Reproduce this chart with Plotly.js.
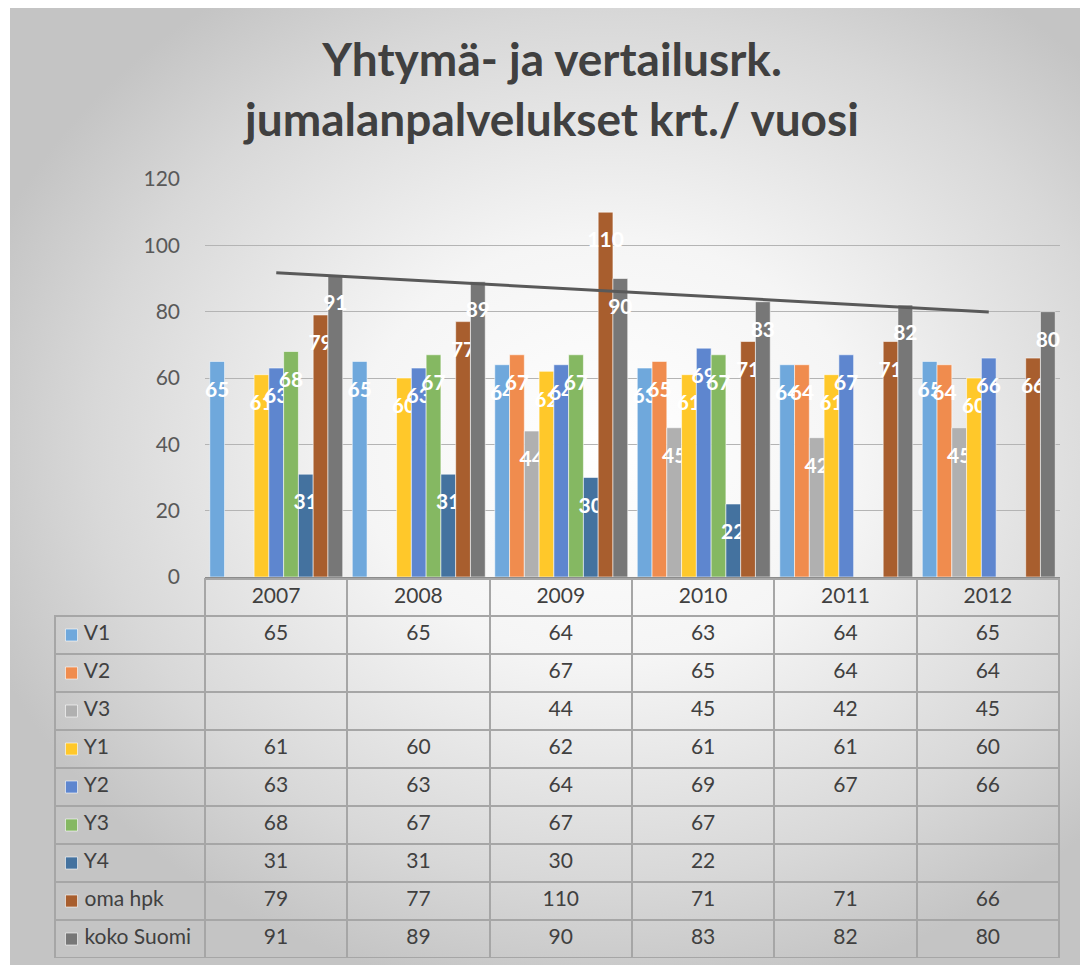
<!DOCTYPE html>
<html>
<head>
<meta charset="utf-8">
<script src="https://cdn.plot.ly/plotly-3.0.1.min.js"></script>
<style>
    body { margin: 0; background: #ffffff; }
    #bg {
        position: absolute; left: 10px; top: 8px; width: 1070px; height: 957px;
        background: radial-gradient(ellipse 62% 58% at 56% 46%, #ffffff 0%, #f5f5f5 38%, #d8d8d8 78%, #c4c4c4 100%);
    }
    #chart { position: absolute; left: 0; top: 0; width: 1086px; height: 965px; }
</style>
</head>
<body>
<div id="bg"></div>
<div id="chart"></div>
<script>
const years = ['2007', '2008', '2009', '2010', '2011', '2012'];

const v1 = [65, 65, 64, 63, 64, 65];
const v2 = [null, null, 67, 65, 64, 64];
const v3 = [null, null, 44, 45, 42, 45];
const y1 = [61, 60, 62, 61, 61, 60];
const y2 = [63, 63, 64, 69, 67, 66];
const y3 = [68, 67, 67, 67, null, null];
const y4 = [31, 31, 30, 22, null, null];
const omaHpk = [79, 77, 110, 71, 71, 66];
const kokoSuomi = [91, 89, 90, 83, 82, 80];

const seriesNames = ['V1', 'V2', 'V3', 'Y1', 'Y2', 'Y3', 'Y4', 'oma hpk', 'koko Suomi'];
const seriesValues = [v1, v2, v3, y1, y2, y3, y4, omaHpk, kokoSuomi];
const seriesColors = ['#6FA8DC', '#F08C4E', '#B0B0B0', '#FFC82A', '#5E86CF', '#85B862', '#44729F', '#A85E2E', '#777777'];

const FONT = 'Lato, "Open Sans", sans-serif';

// linear trend of koko Suomi (least squares over category index)
function linearTrend(vals) {
    const n = vals.length;
    let sx = 0, sy = 0, sxx = 0, sxy = 0;
    vals.forEach((v, i) => { const x = i + 1; sx += x; sy += v; sxx += x * x; sxy += x * v; });
    const slope = (n * sxy - sx * sy) / (n * sxx - sx * sx);
    const icpt = (sy - slope * sx) / n;
    return vals.map((v, i) => icpt + slope * (i + 1));
}

let data = seriesNames.map((name, k) => ({
    type: 'bar',
    x: years,
    y: seriesValues[k],
    name: name,
    marker: {
        color: seriesColors[k],
        line: { color: 'rgba(255,255,255,0.55)', width: 1 },
    },
    // small blank first line pushes the value a bit below the bar top
    texttemplate: '\u00a0<br><span style="font-size:21px">%{y}</span>',
    textposition: 'inside',
    insidetextanchor: 'end',
    textangle: 0,
    constraintext: 'none',
    insidetextfont: { family: FONT, size: 14, color: '#ffffff', weight: 'bold' },
    hoverinfo: 'name+y',
    showlegend: false,
}));

data.push({
    type: 'scatter',
    mode: 'lines',
    x: years,
    y: linearTrend(kokoSuomi),
    line: { color: '#595959', width: 3 },
    hoverinfo: 'skip',
    showlegend: false,
});

// legend keys in the first column of the data table
data.push({
    type: 'scatter',
    mode: 'markers',
    xaxis: 'x2',
    yaxis: 'y2',
    x: seriesNames.map(() => 0),
    y: seriesNames,
    marker: {
        symbol: 'square',
        size: 12,
        color: seriesColors,
        line: { color: 'rgba(255,255,255,0.6)', width: 1 },
    },
    hoverinfo: 'skip',
    showlegend: false,
});

// data table under the plot
const yearColumns = years.map((yr, j) =>
    seriesValues.map(vals => vals[j] === null ? '' : String(vals[j])));
// no-break spaces keep the table from wrapping the names
const tableNames = seriesNames.map(s => '\u00a0\u00a0\u00a0\u00a0' + s.replace(/ /g, '\u00a0'));

data.push({
    type: 'table',
    domain: { x: [55 / 1086, 1060 / 1086], y: [1 - 958 / 965, 1 - 579 / 965] },
    columnwidth: [150, 142.5, 142.5, 142.5, 142.5, 142.5, 142.5],
    header: {
        values: [''].concat(years),
        height: 37,
        align: 'center',
        fill: { color: 'rgba(0,0,0,0)' },
        line: { color: ['rgba(0,0,0,0)'].concat(years.map(() => '#a6a6a6')), width: 2 },
        font: { family: FONT, size: 21, color: '#404040' },
    },
    cells: {
        values: [tableNames].concat(yearColumns),
        height: 38,
        align: ['left', 'center', 'center', 'center', 'center', 'center', 'center'],
        fill: { color: 'rgba(0,0,0,0)' },
        line: { color: '#a6a6a6', width: 2 },
        font: { family: FONT, size: 21, color: '#404040' },
    },
});

let layout = {
    width: 1086,
    height: 965,
    margin: { l: 0, r: 0, t: 0, b: 0 },
    paper_bgcolor: 'rgba(0,0,0,0)',
    plot_bgcolor: 'rgba(0,0,0,0)',
    font: { family: FONT, color: '#595959' },

    title: {
        text: 'Yhtymä- ja vertailusrk.<br>jumalanpalvelukset krt./ vuosi',
        font: { family: FONT, size: 46, color: '#404040', weight: 'bold' },
        x: 552 / 1086,
        xanchor: 'center',
        xref: 'paper',
        y: 1 - 76 / 965,
        yanchor: 'middle',
        yref: 'container',
    },

    barmode: 'group',
    bargap: 0.067,
    bargroupgap: 0,

    xaxis: {
        type: 'category',
        domain: [205 / 1086, 1060 / 1086],
        showticklabels: false,
        showgrid: false,
        showline: true,
        linecolor: '#8c8c8c',
        linewidth: 2,
        ticks: '',
    },
    yaxis: {
        domain: [1 - 577 / 965, 1 - 179 / 965],
        range: [0, 120],
        tickvals: [0, 20, 40, 60, 80, 100, 120],
        gridcolor: '#b4b4b4',
        gridwidth: 1,
        zeroline: false,
        ticks: '',
        ticklabelstandoff: 24,
        tickfont: { family: FONT, size: 21, color: '#595959' },
    },
    xaxis2: {
        domain: [55 / 1086, 205 / 1086],
        range: [-16.5, 133.5],
        visible: false,
        anchor: 'y2',
        fixedrange: true,
    },
    yaxis2: {
        domain: [1 - 958 / 965, 1 - 616 / 965],
        type: 'category',
        categoryorder: 'array',
        categoryarray: seriesNames,
        range: [8.5, -0.5],
        visible: false,
        anchor: 'x2',
        fixedrange: true,
    },
};

let config = {
    responsive: false,
    displayModeBar: false,
};

const div = document.getElementById('chart');
Plotly.newPlot(div, data, layout, config);
</script>
</body>
</html>
